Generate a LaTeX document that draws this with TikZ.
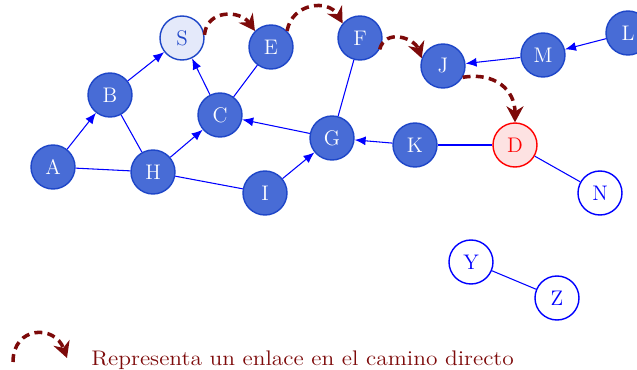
\documentclass[tikz,border=0pt]{standalone}
\usepackage{graphicx}
\usetikzlibrary{arrows.meta}
\definecolor{nodoazul}{RGB}{72,108,214}
\definecolor{bordeazul}{RGB}{30,70,200}
\definecolor{claroazul}{RGB}{228,233,250}
\definecolor{claroroj}{RGB}{253,226,226}
\definecolor{granate}{RGB}{125,10,10}

\begin{document}
\begin{tikzpicture} [x=0.2mm, y=-0.2mm,
  nodo/.style={circle, minimum size=8.8mm, inner sep=0pt, font=\large, line width=0.8pt},
  lleno/.style={nodo, draw=bordeazul, fill=nodoazul, text=white},
  vacio/.style={nodo, draw=blue, fill=white, text=blue},
  arista/.style={blue, line width=0.6pt},
  camino/.style={granate, line width=2pt, dash pattern=on 4.5pt off 3pt, -{Stealth[length=3.2mm, width=3.4mm]}}]
\clip (0,0) rectangle (637,370);

\foreach \n/\x/\y in {A/53/167, B/110/95, E/271/47, C/220/115, H/153/172, I/265/193, G/332/138, F/360/38, J/443/66, M/543/55, L/628/33, K/415/145}
  \node[lleno] (\n) at (\x,\y) {\n};
\node[nodo, draw=bordeazul, fill=claroazul, text=bordeazul] (S) at (182,38) {S};
\node[nodo, draw=red, fill=claroroj, text=red] (D) at (515,145) {D};
\foreach \n/\x/\y in {N/600/193, Y/471/262, Z/557/298}
  \node[vacio] (\n) at (\x,\y) {\n};

\foreach \a/\b in {A/B, B/S, H/C, I/G, G/C, C/S, K/G, M/J, L/M}
  \draw[arista, -{Latex[length=2.2mm, width=1.8mm]}] (\a)--(\b);
\foreach \a/\b in {A/H, B/H, H/I, C/E, F/G, K/D, D/N, Y/Z}
  \draw[arista] (\a)--(\b);

\draw[camino] (S.8) to[out=85, in=125, looseness=1.3] (E.135);
\draw[camino] (E.45) to[out=80, in=120, looseness=1.3] (F.140);
\draw[camino] (F.-30) to[out=75, in=110, looseness=1.3] (J.160);
\draw[camino] (J.-30) to[out=10, in=90, looseness=1.2] (D.north);

\coordinate (ley1) at (13,362);
\coordinate (ley2) at (67,358);
\draw[camino] (ley1) to[out=90, in=110, looseness=1.7] (ley2);
\node[anchor=base west, text=granate, font=\large, inner xsep=0pt] (leyenda) at (91,365) {\scalebox{1.11}[1]{Representa un enlace en el camino directo}};
\end{tikzpicture}
\end{document}
